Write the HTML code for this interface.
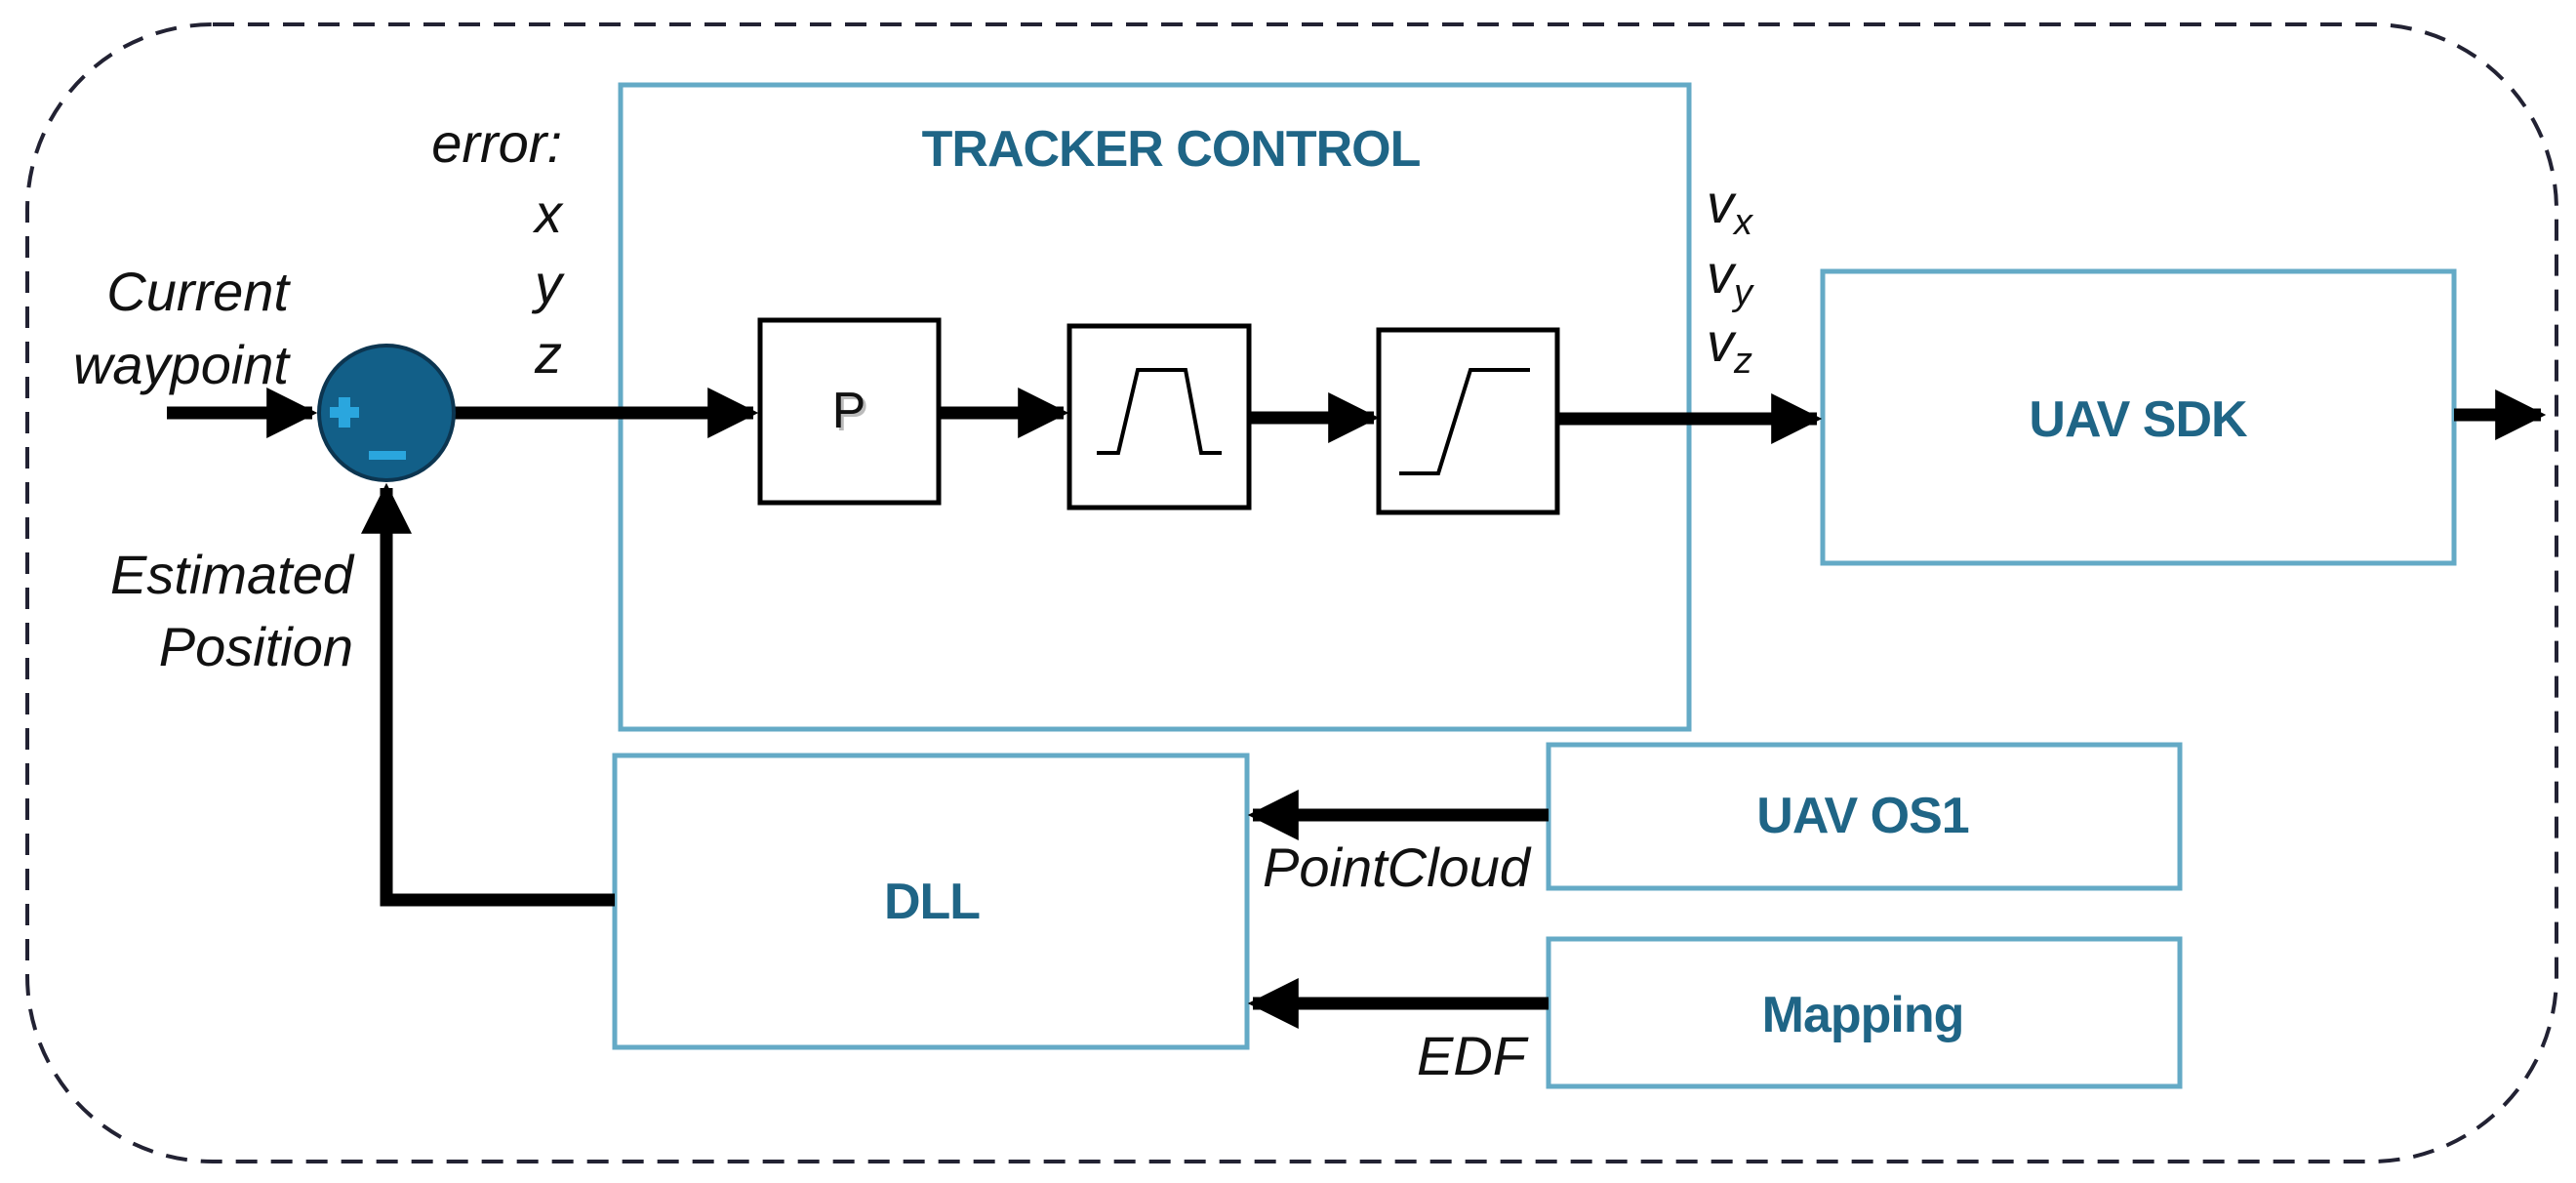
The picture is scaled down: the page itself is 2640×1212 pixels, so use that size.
<!DOCTYPE html>
<html><head><meta charset="utf-8"><style>
html,body{margin:0;padding:0;background:#fff;}
svg{display:block;}
.lab{font-family:"Liberation Sans",sans-serif;font-style:italic;font-size:56px;fill:#111;}
.blk{font-family:"Liberation Sans",sans-serif;font-weight:bold;fill:#1f6586;}
</style></head><body>
<svg width="2640" height="1212" viewBox="0 0 2640 1212" xmlns="http://www.w3.org/2000/svg">
<defs>
<marker id="ah" markerWidth="4" markerHeight="4" refX="3.6" refY="2" orient="auto" markerUnits="strokeWidth">
<path d="M0,0 L4,2 L0,4 z" fill="#000"/></marker>
</defs>
<rect x="28" y="25" width="2592" height="1165" rx="190" ry="190" fill="none" stroke="#223" stroke-width="4" stroke-dasharray="22,14"/>
<!-- blue boxes -->
<g fill="none" stroke="#64aac6" stroke-width="5">
<rect x="636" y="87" width="1095" height="660"/>
<rect x="1868" y="278" width="647" height="299"/>
<rect x="630" y="774" width="648" height="299"/>
<rect x="1587" y="763" width="647" height="147"/>
<rect x="1587" y="962" width="647" height="151"/>
</g>
<text class="blk" x="1200" y="170" font-size="52" text-anchor="middle" letter-spacing="-1">TRACKER CONTROL</text>
<text class="blk" x="2191" y="447" font-size="52" text-anchor="middle" letter-spacing="-1">UAV SDK</text>
<text class="blk" x="955" y="941" font-size="52" text-anchor="middle" letter-spacing="-1">DLL</text>
<text class="blk" x="1909" y="853" font-size="52" text-anchor="middle" letter-spacing="-1">UAV OS1</text>
<text class="blk" x="1909" y="1057" font-size="52" text-anchor="middle" letter-spacing="-1">Mapping</text>
<!-- black boxes -->
<g fill="none" stroke="#000" stroke-width="5">
<rect x="779" y="328" width="183" height="187"/>
<rect x="1096" y="334" width="184" height="186"/>
<rect x="1413" y="338" width="183" height="187"/>
</g>
<g fill="none" stroke="#000" stroke-width="4">
<polyline points="1124,464 1146,464 1166,379 1215,379 1231,464 1252,464"/>
<polyline points="1434,485 1474,485 1507,379 1568,379"/>
</g>
<text x="873" y="441" font-family="Liberation Sans,sans-serif" font-size="52" text-anchor="middle" fill="#bbb">P</text>
<text x="870" y="438" font-family="Liberation Sans,sans-serif" font-size="52" text-anchor="middle" fill="#111">P</text>
<!-- arrows -->
<g stroke="#000" stroke-width="13" fill="none">
<line x1="171" y1="423" x2="320" y2="423" marker-end="url(#ah)"/>
<line x1="466" y1="423" x2="772" y2="423" marker-end="url(#ah)"/>
<line x1="962" y1="423" x2="1090" y2="423" marker-end="url(#ah)"/>
<line x1="1280" y1="428" x2="1408" y2="428" marker-end="url(#ah)"/>
<line x1="1596" y1="429" x2="1862" y2="429" marker-end="url(#ah)"/>
<line x1="2515" y1="425" x2="2604" y2="425" marker-end="url(#ah)"/>
<polyline points="630,922 396,922 396,500" marker-end="url(#ah)" stroke-linejoin="miter"/>
<line x1="1587" y1="835" x2="1284" y2="835" marker-end="url(#ah)"/>
<line x1="1587" y1="1028" x2="1284" y2="1028" marker-end="url(#ah)"/>
</g>
<!-- summing junction -->
<circle cx="396" cy="423" r="69" fill="#125f88" stroke="#0c3550" stroke-width="4"/>
<rect x="338" y="417" width="30" height="11" fill="#2aa6de"/>
<rect x="347" y="407" width="12" height="31" fill="#2aa6de"/>
<rect x="378" y="462" width="38" height="9" fill="#2aa6de"/>
<!-- labels -->
<text class="lab" x="296" y="318" text-anchor="end">Current</text>
<text class="lab" x="296" y="393" text-anchor="end">waypoint</text>
<text class="lab" x="362" y="608" text-anchor="end">Estimated</text>
<text class="lab" x="362" y="682" text-anchor="end">Position</text>
<text class="lab" x="576" y="166" text-anchor="end">error:</text>
<text class="lab" x="576" y="238" text-anchor="end">x</text>
<text class="lab" x="576" y="310" text-anchor="end">y</text>
<text class="lab" x="576" y="382" text-anchor="end">z</text>
<text class="lab" x="1749" y="228">v<tspan font-size="38" dy="12">x</tspan></text>
<text class="lab" x="1749" y="300">v<tspan font-size="38" dy="12">y</tspan></text>
<text class="lab" x="1749" y="370">v<tspan font-size="38" dy="12">z</tspan></text>
<text class="lab" x="1568" y="908" text-anchor="end">PointCloud</text>
<text class="lab" x="1564" y="1101" text-anchor="end">EDF</text>
</svg>
</body></html>
